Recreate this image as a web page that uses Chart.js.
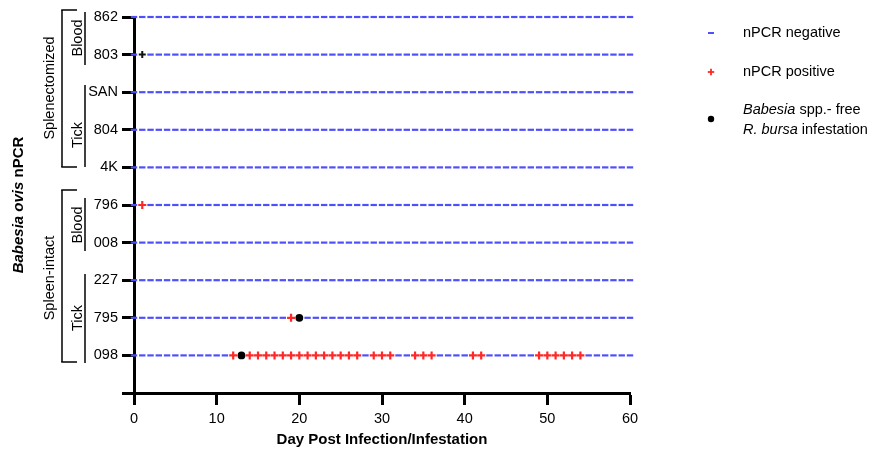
<!DOCTYPE html>
<html>
<head>
<meta charset="utf-8">
<script src="https://cdn.jsdelivr.net/npm/chart.js@4/dist/chart.umd.min.js"></script>
<style>
  html, body { margin: 0; padding: 0; background: #fff; }
  #wrap { width: 878px; height: 452px; }
</style>
</head>
<body>
<div id="wrap"><canvas id="c" width="878" height="452"></canvas></div>
<script>
// ---------- DATA ----------
// Rows listed top to bottom
const rowLabels = ['862', '803', 'SAN', '804', '4K', '796', '008', '227', '795', '098'];
// Sampled days (every day 0..60)
const sampledDays = [0,1,2,3,4,5,6,7,8,9,10,11,12,13,14,15,16,17,18,19,20,21,22,23,24,25,26,27,28,29,30,
  31,32,33,34,35,36,37,38,39,40,41,42,43,44,45,46,47,48,49,50,51,52,53,54,55,56,57,58,59,60];
// nPCR positive days per row
const positive862 = [];
const positive803 = [];
const positiveSAN = [];
const positive804 = [];
const positive4K = [];
const positive796 = [1];
const positive008 = [];
const positive227 = [];
const positive795 = [19];
const positive098 = [12,14,15,16,17,18,19,20,21,22,23,24,25,26,27,29,30,31,34,35,36,41,42,49,50,51,52,53,54];
// Babesia spp.-free R. bursa infestation days per row
const infestation795 = [20];
const infestation098 = [13];
// dark (black) plus mark on 803
const darkPlus803 = [1];
const xTicks = [0, 10, 20, 30, 40, 50, 60];

// ---------- build points ----------
const positiveByRow = {
  '862': positive862, '803': positive803, 'SAN': positiveSAN, '804': positive804, '4K': positive4K,
  '796': positive796, '008': positive008, '227': positive227, '795': positive795, '098': positive098
};
const infestationByRow = { '795': infestation795, '098': infestation098 };
const darkByRow = { '803': darkPlus803 };
const rowY = lbl => rowLabels.length - rowLabels.indexOf(lbl);

const negPts = [], posPts = [], infPts = [], darkPts = [];
rowLabels.forEach(lbl => {
  const y = rowY(lbl);
  const pos = positiveByRow[lbl] || [];
  const inf = infestationByRow[lbl] || [];
  const dk = darkByRow[lbl] || [];
  sampledDays.forEach(d => {
    if (pos.includes(d)) posPts.push({x: d, y});
    else if (inf.includes(d)) infPts.push({x: d, y});
    else if (dk.includes(d)) darkPts.push({x: d, y});
    else negPts.push({x: d, y});
  });
});

const FONT = '"Liberation Sans", Arial, Helvetica, sans-serif';
const BLUE = 'rgb(80,80,250)';
const RED = 'rgb(255,40,40)';

const annot = {
  id: 'annot',
  afterDraw(chart) {
    const ctx = chart.ctx;
    ctx.save();
    ctx.fillStyle = '#000';
    ctx.strokeStyle = '#000';

    function rotText(parts, x, y) {
      ctx.save();
      ctx.translate(x, y);
      ctx.rotate(-Math.PI / 2);
      ctx.textBaseline = 'middle';
      ctx.textAlign = 'left';
      let total = 0;
      parts.forEach(p => { ctx.font = p.font; total += ctx.measureText(p.t).width; });
      let cx = -total / 2;
      parts.forEach(p => { ctx.font = p.font; ctx.fillText(p.t, cx, 0); cx += ctx.measureText(p.t).width; });
      ctx.restore();
    }
    function line(x1, y1, x2, y2, w) {
      ctx.lineWidth = w;
      ctx.beginPath(); ctx.moveTo(x1, y1); ctx.lineTo(x2, y2); ctx.stroke();
    }
    const f = '14.5px ' + FONT;

    // Y axis main title
    rotText([{t: 'Babesia ovis', font: 'italic bold 15px ' + FONT}, {t: ' nPCR', font: 'bold 15px ' + FONT}], 19, 205);

    // Group brackets
    line(62, 10, 62, 167, 1.5); line(61.25, 10, 77, 10, 1.5); line(61.25, 167, 77, 167, 1.5);
    line(62, 190, 62, 362, 1.5); line(61.25, 190, 77, 190, 1.5); line(61.25, 362, 77, 362, 1.5);
    rotText([{t: 'Splenectomized', font: f}], 50, 88);
    rotText([{t: 'Spleen-intact', font: f}], 50, 278);

    // sub-groups
    line(85, 12, 85, 65, 1.5);
    line(85, 85, 85, 167, 1.5);
    line(85, 198, 85, 251, 1.5);
    line(85, 274, 85, 363, 1.5);
    rotText([{t: 'Blood', font: f}], 77.5, 38);
    rotText([{t: 'Tick', font: f}], 77.5, 135);
    rotText([{t: 'Blood', font: f}], 77.5, 225);
    rotText([{t: 'Tick', font: f}], 77.5, 318);

    // X axis title
    ctx.font = 'bold 15px ' + FONT;
    ctx.textAlign = 'center';
    ctx.textBaseline = 'middle';
    ctx.fillText('Day Post Infection/Infestation', 382, 440);

    // Legend
    const lx = 711;
    ctx.strokeStyle = BLUE; line(lx - 3, 33, lx + 3, 33, 2);
    ctx.strokeStyle = RED; line(lx - 3.2, 72, lx + 3.2, 72, 1.8); line(lx, 68.8, lx, 75.2, 1.8);
    ctx.fillStyle = '#000';
    ctx.beginPath(); ctx.arc(lx, 119, 3.2, 0, Math.PI * 2); ctx.fill();

    ctx.textAlign = 'left';
    ctx.textBaseline = 'middle';
    ctx.font = f;
    ctx.fillText('nPCR negative', 743, 33);
    ctx.fillText('nPCR positive', 743, 72);
    function mixed(parts, x, y) {
      let cx = x;
      parts.forEach(p => { ctx.font = p.font; ctx.fillText(p.t, cx, y); cx += ctx.measureText(p.t).width; });
    }
    mixed([{t: 'Babesia', font: 'italic ' + f}, {t: ' spp.- free', font: f}], 743, 110);
    mixed([{t: 'R. bursa', font: 'italic ' + f}, {t: ' infestation', font: f}], 743, 130);
    ctx.restore();
  }
};

new Chart(document.getElementById('c'), {
  type: 'scatter',
  data: {
    datasets: [
      { label: 'nPCR negative', data: negPts, pointStyle: 'line', pointRadius: 3.2, borderWidth: 2.2,
        borderColor: BLUE, backgroundColor: BLUE, clip: false },
      { label: 'nPCR positive', data: posPts, pointStyle: 'cross', pointRadius: 4, borderWidth: 2.2,
        borderColor: RED, backgroundColor: RED, clip: false },
      { label: 'dark', data: darkPts, pointStyle: 'cross', pointRadius: 3.5, borderWidth: 2,
        borderColor: '#111', backgroundColor: '#111', clip: false },
      { label: 'infestation', data: infPts, pointStyle: 'circle', pointRadius: 3.9, borderWidth: 0,
        borderColor: '#000', backgroundColor: '#000', clip: false }
    ]
  },
  options: {
    responsive: false,
    animation: false,
    events: [],
    layout: { padding: { left: 0, right: 248, top: 17, bottom: 0 } },
    plugins: { legend: { display: false }, tooltip: { enabled: false } },
    scales: {
      x: {
        type: 'linear', min: 0, max: 60,
        afterFit(s) { s.height = 59; },
        afterBuildTicks(s) { s.ticks = xTicks.map(v => ({value: v})); },
        ticks: { font: { family: FONT, size: 14.5 }, color: '#000', padding: 5, maxRotation: 0 },
        grid: { display: true, drawOnChartArea: false, drawTicks: true, tickLength: 12, tickWidth: 3, tickColor: '#000' },
        border: { display: true, width: 3, color: '#000' }
      },
      y: {
        type: 'linear', min: 0, max: rowLabels.length,
        afterFit(s) { s.width = 134; },
        ticks: {
          stepSize: 1, font: { family: FONT, size: 14.5 }, color: '#000', padding: 4,
          callback: v => (v >= 1 && v <= rowLabels.length) ? rowLabels[rowLabels.length - v] : ''
        },
        grid: { display: true, drawOnChartArea: false, drawTicks: true, tickLength: 12, tickWidth: 3, tickColor: '#000' },
        border: { display: true, width: 3, color: '#000' }
      }
    }
  },
  plugins: [annot]
});
</script>
</body>
</html>
